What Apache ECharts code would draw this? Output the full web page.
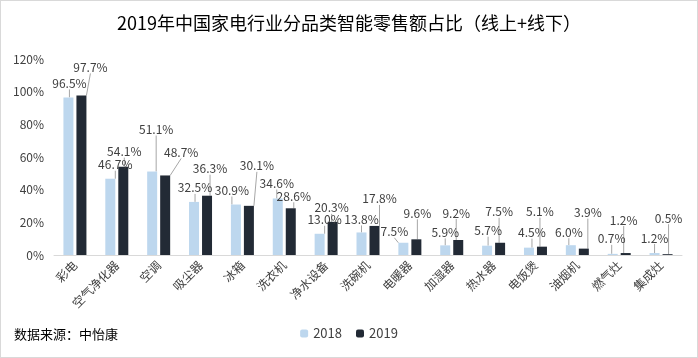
<!DOCTYPE html>
<html><head><meta charset="utf-8">
<script src="https://cdn.jsdelivr.net/npm/echarts@6/dist/echarts.min.js"></script>
<style>html,body{margin:0;padding:0;background:#fff}#c{width:698px;height:358px;box-sizing:border-box;border:1px solid #D9D9D9}</style>
</head><body><div id="c"></div>
<script>
const categories = ['彩电','空气净化器','空调','吸尘器','冰箱','洗衣机','净水设备','洗碗机','电暖器','加湿器','热水器','电饭煲','油烟机','燃气灶','集成灶'];
const values2018 = [96.5,46.7,51.1,32.5,30.9,34.6,13.0,13.8,7.5,5.9,5.7,4.5,6.0,0.7,1.2];
const values2019 = [97.7,54.1,48.7,36.3,30.1,28.6,20.3,17.8,9.6,9.2,7.5,5.1,3.9,1.2,0.5];
const yTicks = [0,20,40,60,80,100,120];

// label layout offsets (dx, dy) relative to default 'top' placement
const offs2018 = [[1,-3],[5,-3],[4,-31],[1,-3],[-4,-3],[-1,-4],[5,-3],[0,-2],[-9,0],[0,-2],[1,-4],[3,-4],[-2,-2],[-1,-4],[0,-4]];
const offs2019 = [[9,-17],[1,-4],[16,-12],[3,-16],[8,-29],[3,-1],[-1,-3],[5,-16],[1,-15],[-2,-16],[-1,-20],[-2,-24],[4,-25],[-2,-22],[1,-25]];

const chart = echarts.init(document.getElementById('c'));
const lbl = {show:true, position:'top', distance:5, color:'#404040', fontSize:12,
  fontFamily:'"Noto Sans CJK SC", sans-serif', formatter: p => p.value.toFixed(1) + '%'};
function layoutFn(offs){
  return function(p){
    const o = offs[p.dataIndex];
    return {dx:o[0], dy:o[1]};
  };
}
chart.setOption({
  animation:false,
  textStyle:{fontFamily:'"Noto Sans CJK SC", sans-serif'},
  title:{text:'2019年中国家电行业分品类智能零售额占比（线上+线下）', left:'center', top:8,
    textStyle:{fontSize:18, fontWeight:'normal', color:'#000'}},
  graphic:[{type:'text', left:13, top:327, style:{text:'数据来源：中怡康', fontSize:13, fill:'#000', fontFamily:'"Noto Sans CJK SC", sans-serif'}}],
  legend:{bottom:12, left:'center', itemWidth:8, itemHeight:8, itemGap:14,
    textStyle:{fontSize:13, color:'#404040'}, data:['2018','2019']},
  grid:{left:53, right:15, top:58, bottom:102},
  xAxis:{type:'category', data:categories,
    axisLine:{lineStyle:{color:'#D9D9D9'}}, axisTick:{show:false},
    axisLabel:{rotate:45, fontSize:12, color:'#404040', interval:0, margin:8}},
  yAxis:{type:'value', min:yTicks[0], max:yTicks[yTicks.length-1], interval:20,
    splitLine:{show:false}, axisLine:{show:false}, axisTick:{show:false},
    axisLabel:{formatter:'{value}%', fontSize:12, color:'#404040', margin:10}},
  series:[
    {name:'2018', type:'bar', data:values2018, barWidth:10, barGap:'30%',
     itemStyle:{color:'#BDD7EE'}, label:lbl,
     labelLayout:layoutFn(offs2018), labelLine:{show:true, lineStyle:{color:'#A6A6A6', width:1}}},
    {name:'2019', type:'bar', data:values2019, barWidth:10, barGap:'30%',
     itemStyle:{color:'#222A35'}, label:lbl,
     labelLayout:layoutFn(offs2019), labelLine:{show:true, lineStyle:{color:'#A6A6A6', width:1}}}
  ]
});
</script></body></html>
